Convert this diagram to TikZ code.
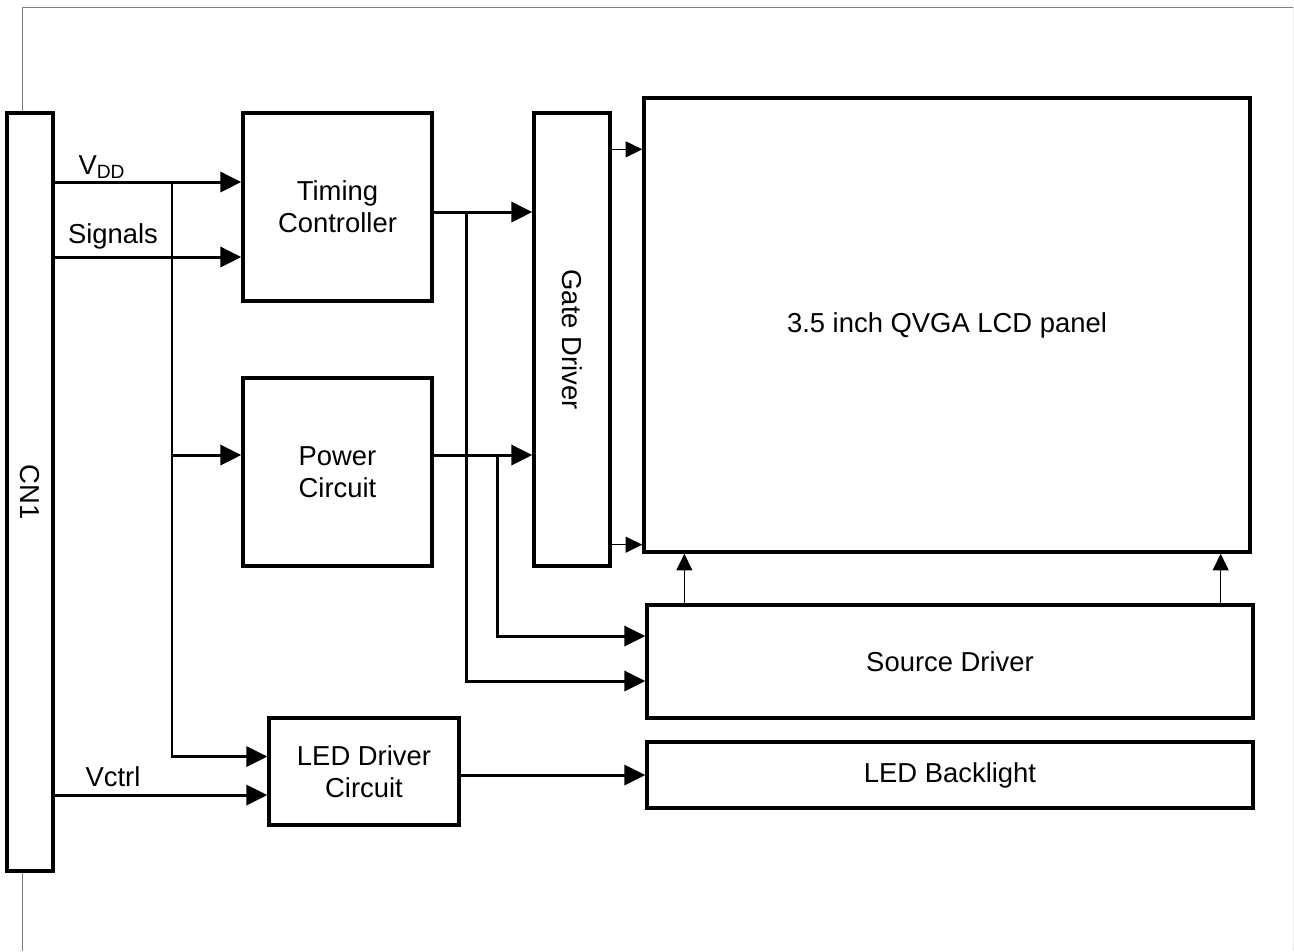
\documentclass[tikz,border=0pt]{standalone}
\usepackage{fontspec}
\setmainfont{Liberation Sans}
\usetikzlibrary{calc,arrows.meta}

\begin{document}
\begin{tikzpicture}[x=0.02cm, y=-0.02cm, font=\fontsize{15.6}{18.2}\selectfont,
  blk/.style 2 args={draw, fill=white, line width=1.9pt, inner sep=0pt, align=center,
    minimum width=#1*0.02cm, minimum height=#2*0.02cm},
  feed/.style={line width=1.7pt, -{Triangle[length=12pt,width=11.5pt]}},
  tap/.style={line width=0.9pt, -{Triangle[length=9.5pt,width=9pt]}}]
  \useasboundingbox (0,0) rectangle (1294,951);
  % outer frame
  \draw[gray, line width=0.4pt] (22,951) -- (22,7) -- (1294,7);
  \draw[gray!15, line width=0.4pt] (1293,7) -- (1293,951);
  % blocks
  \node[blk={46}{758}] (cn1) at (30,492) {\rotatebox{-90}{CN1}};
  \node[blk={189}{188}] (tc) at (337.5,207) {Timing\\Controller};
  \node[blk={189}{188}] (pwr) at (337.5,472) {Power\\Circuit};
  \node[blk={76}{453}] (gate) at (572,339.5) {\rotatebox{-90}{Gate Driver}};
  \node[blk={606}{454}] (lcd) at (947,325) {3.5 inch QVGA LCD panel};
  \node[blk={606}{113}] (src) at (950,661.5) {Source Driver};
  \node[blk={606}{66}] (led) at (950,775) {LED Backlight};
  \node[blk={190}{107}] (ledd) at (364,771.5) {LED Driver\\Circuit};
  % inputs from the connector
  \coordinate (vdd) at (cn1.east |- 0,182);
  \coordinate (sig) at (cn1.east |- 0,257);
  \coordinate (ctl) at (cn1.east |- 0,795);
  \coordinate (bus) at (172,182);
  \coordinate (p in) at ($(pwr.west)+(0,-17)$);
  \coordinate (l in) at ($(ledd.west)+(0,-15)$);
  \draw[feed] (vdd) -- (vdd -| tc.west);
  \draw[feed] (sig) -- (sig -| tc.west);
  \draw[feed] (bus) |- (l in);
  \draw[feed] (bus |- p in) -- (p in);
  \draw[feed] (ctl) -- (ctl -| ledd.west);
  \node (vddlbl) at (102,167) {V\textsubscript{DD}};
  \node (siglbl) at (113,236) {Signals};
  \node (ctllbl) at (113,777) {Vctrl};
  % timing controller and power outputs
  \coordinate (t out) at ($(tc.east)+(0,5)$);
  \coordinate (p out) at ($(pwr.east)+(0,-17)$);
  \draw[feed] (t out) -- (t out -| gate.west);
  \draw[feed] (p out) -- (p out -| gate.west);
  \draw[feed] (t out -| 466,0) |- ($(src.west)+(0,19.5)$);
  \draw[feed] (p out -| 497,0) |- ($(src.west)+(0,-25.5)$);
  % drivers to the panel
  \coordinate (g1) at ($(gate.north east)+(0,38)$);
  \coordinate (g2) at ($(gate.south east)+(0,-23)$);
  \draw[tap] (g1) -- (g1 -| lcd.west);
  \draw[tap] (g2) -- (g2 -| lcd.west);
  \coordinate (s1) at ($(src.north west)+(39,0)$);
  \coordinate (s2) at ($(src.north east)+(-34,0)$);
  \draw[tap] (s1) -- (s1 |- lcd.south);
  \draw[tap] (s2) -- (s2 |- lcd.south);
  % backlight
  \draw[feed] (ledd.east |- led.west) -- (led.west);
\end{tikzpicture}
\end{document}
